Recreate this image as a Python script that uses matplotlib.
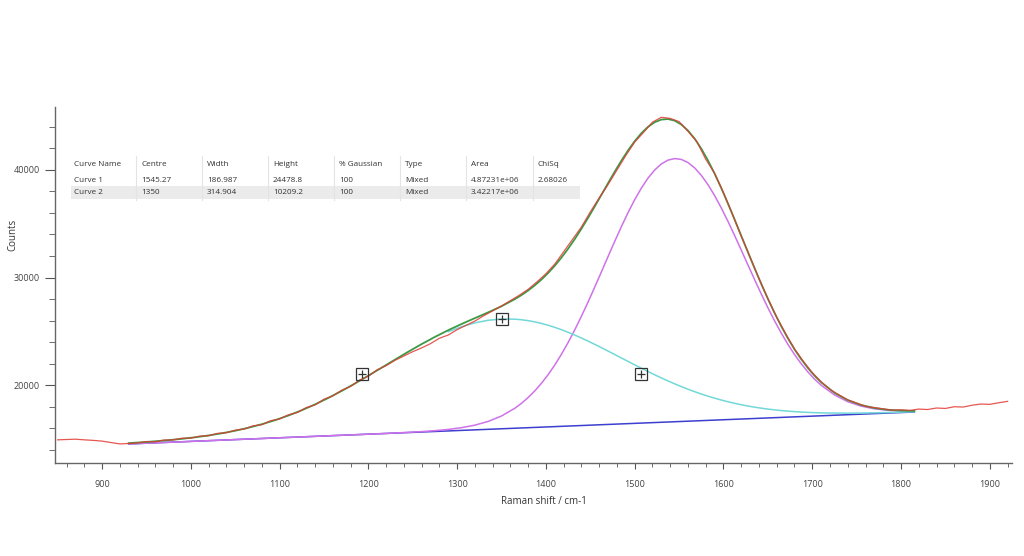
"""
Raman spectrum with two-peak Gaussian fit (D and G bands).
"""
import matplotlib
matplotlib.use("Agg")
import matplotlib.pyplot as plt
import numpy as np
from matplotlib.patches import Rectangle
from matplotlib.ticker import MultipleLocator

OUTPUT = "out.png"
W, H = 1024, 556

# ── data ────────────────────────────────────────────────────────────
# fit grid (cm-1): every 15, finer (7.5) across the main peak
shift = np.concatenate([np.arange(930, 1351, 15),
                        np.arange(1365, 1711, 7.5),
                        np.arange(1725, 1816, 15)])
baseline = [14520, 14570, 14621, 14671, 14721, 14772, 14822, 14872, 14923, 14973,
            15023, 15074, 15124, 15174, 15224, 15275, 15325, 15375, 15426, 15476,
            15527, 15577, 15627, 15678, 15728, 15778, 15828, 15879, 15929,
            15979, 16005, 16030, 16055, 16080, 16105, 16130, 16156, 16181, 16206,
            16231, 16256, 16281, 16307, 16332, 16357, 16382, 16407, 16432, 16458,
            16483, 16508, 16533, 16558, 16583, 16609, 16634, 16659, 16684, 16709,
            16734, 16760, 16785, 16810, 16835, 16860, 16885, 16911, 16936, 16961,
            16986, 17012, 17037, 17062, 17087, 17112, 17137,
            17188, 17238, 17288, 17339, 17389, 17439, 17490]
# curve heights above baseline
curve1 = [0, 0, 0, 0, 0, 0, 0, 0, 0, 0,
          0, 0, 0, 0, 0, 0, 0, 0, 1, 4,
          9, 19, 39, 75, 140, 252, 438, 735, 1190,
          1861, 2295, 2806, 3401, 4086, 4862, 5736, 6708, 7774, 8930,
          10166, 11471, 12828, 14218, 15620, 17007, 18353, 19628, 20807, 21860,
          22763, 23493, 24030, 24362, 24479, 24377, 24061, 23538, 22822, 21931,
          20887, 19717, 18447, 17105, 15720, 14319, 12928, 11567, 10258, 9016,
          7855, 6781, 5803, 4922, 4138, 3447, 2846,
          1890, 1210, 748, 446, 257, 143, 76]
curve2 = [74, 104, 145, 200, 272, 366, 486, 637, 824, 1054,
          1330, 1658, 2040, 2479, 2975, 3526, 4126, 4769, 5442, 6133,
          6826, 7501, 8140, 8723, 9232, 9647, 9955, 10145, 10209,
          10145, 10066, 9955, 9816, 9647, 9452, 9232, 8988, 8723, 8440,
          8140, 7826, 7501, 7167, 6826, 6480, 6133, 5787, 5442, 5103,
          4769, 4443, 4126, 3820, 3526, 3244, 2975, 2720, 2479, 2252,
          2040, 1842, 1658, 1487, 1330, 1186, 1054, 934, 824, 726,
          637, 557, 486, 423, 366, 316, 272,
          200, 145, 104, 74, 51, 36, 24]

# measured spectrum, 850 .. 1920 every 10
raw_x = np.arange(850, 1921, 10)
raw_y = [14900, 14930, 14960, 14900, 14850, 14780, 14650, 14520, 14560, 14610,
         14740, 14720, 14880, 14890, 15050, 15060, 15240, 15280, 15500, 15560,
         15800, 15900, 16200, 16310, 16680, 16840, 17230, 17440, 17900, 18150,
         18680, 18990, 19520, 19870, 20450, 20820, 21420, 21800, 22300, 22700,
         23100, 23450, 23850, 24350, 24650, 25150, 25550, 25950, 26450, 26900,
         27350, 27850, 28350, 28900, 29600, 30350, 31250, 32400, 33550, 34700,
         36100, 37400, 38650, 40000, 41350, 42600, 43500, 44450, 44900, 44800,
         44500, 43600, 42650, 41000, 39700, 37900, 35900, 33850, 31900, 29900,
         28050, 26300, 24780, 23350, 22200, 21150, 20300, 19580, 19080, 18620,
         18320, 18020, 17900, 17780, 17660, 17700, 17640, 17760, 17720, 17860,
         17820, 17980, 17950, 18120, 18230, 18200, 18350, 18480]

# half-width handles of curve 2
marker_x = [1192.5, 1350, 1507.5]
marker_y = [21034, 26138, 21034]

table_cols = ["Curve Name", "Centre", "Width", "Height", "% Gaussian", "Type", "Area", "ChiSq"]
table_rows = [
    ["Curve 1", "1545.27", "186.987", "24478.8", "100", "Mixed", "4.87231e+06", "2.68026"],
    ["Curve 2", "1350", "314.904", "10209.2", "100", "Mixed", "3.42217e+06", ""],
]

RED = "#e23a32"
GREEN = "#3c9a46"
CYAN = "#72d8d8"
MAGENTA = "#cf72ea"
BLUE = "#3d3fcf"
TXT = "#333333"


def px(x, y):
    return x / W, 1 - y / H


def draw():
    plt.rcParams["font.family"] = ["Open Sans", "DejaVu Sans"]
    fig = plt.figure(figsize=(W / 100, H / 100), dpi=100)
    fig.patch.set_facecolor("white")
    ax = fig.add_axes([55 / W, 1 - 463 / H, (1012 - 55) / W, (463 - 107) / H])

    base = np.array(baseline)
    c1 = base + np.array(curve1)
    c2 = base + np.array(curve2)
    fit = base + np.array(curve1) + np.array(curve2)

    ax.plot(shift, base, color=BLUE, lw=1.1, zorder=2)
    ax.plot(shift, c1, color=MAGENTA, lw=1.1, zorder=3)
    ax.plot(shift[24:], c2[24:], color=CYAN, lw=1.1, zorder=3)
    ax.plot(shift, fit, color=GREEN, lw=1.3, zorder=4)
    ax.plot(raw_x, raw_y, color=RED, lw=0.9, alpha=0.85, zorder=5)

    ax.plot(marker_x, marker_y, ls="none", marker="s", ms=8, mfc="none",
            mec="#333333", mew=0.9, zorder=6)
    ax.plot(marker_x, marker_y, ls="none", marker="+", ms=6,
            mec="#333333", mew=0.9, zorder=6)

    ax.set_xlim(847, 1925)
    ax.set_ylim(12745, 45860)
    ax.xaxis.set_major_locator(MultipleLocator(100))
    ax.xaxis.set_minor_locator(MultipleLocator(20))
    ax.yaxis.set_major_locator(MultipleLocator(10000))
    ax.yaxis.set_minor_locator(MultipleLocator(2000))
    ax.tick_params(which="major", labelsize=6.5, colors="#555555", labelcolor="#444444")
    ax.tick_params(axis="y", which="major", length=7, pad=4)
    ax.tick_params(axis="y", which="minor", length=4, colors="#555555")
    ax.tick_params(axis="x", which="major", length=4, pad=8)
    ax.tick_params(axis="x", which="minor", length=3, colors="#555555")
    for s in ["top", "right"]:
        ax.spines[s].set_visible(False)
    for s in ["left", "bottom"]:
        ax.spines[s].set_color("#666666")
        ax.spines[s].set_linewidth(1.0)

    fig.text(*px(13, 235), "Counts", rotation=90, ha="center", va="center",
             fontsize=7, color=TXT)
    fig.text(*px(544, 501), "Raman shift / cm-1", ha="center", va="center",
             fontsize=7, color=TXT)

    # ── fit results table ──────────────────────────────────────────
    fig.add_artist(Rectangle(px(71, 199), (580 - 71) / W, 13 / H,
                             transform=fig.transFigure, facecolor="#ebebeb",
                             edgecolor="none", zorder=1))
    col_x = [74, 141, 207, 273, 339, 405, 471, 538]
    for xs in col_x[1:]:
        fig.add_artist(plt.Line2D([(xs - 5) / W] * 2, [1 - 156 / H, 1 - 200 / H],
                                  transform=fig.transFigure, color="#e4e4e4",
                                  lw=0.8, zorder=1))
    row_y = [165, 180, 192.5]
    for x, label in zip(col_x, table_cols):
        fig.text(*px(x, row_y[0]), label, ha="left", va="center",
                 fontsize=5.9, color=TXT, zorder=7)
    for r, row in enumerate(table_rows):
        for x, cell in zip(col_x, row):
            fig.text(*px(x, row_y[r + 1]), cell, ha="left", va="center",
                     fontsize=5.9, color=TXT, zorder=7)

    fig.savefig(OUTPUT, dpi=100, facecolor="white")
    plt.close(fig)


if __name__ == "__main__":
    draw()
